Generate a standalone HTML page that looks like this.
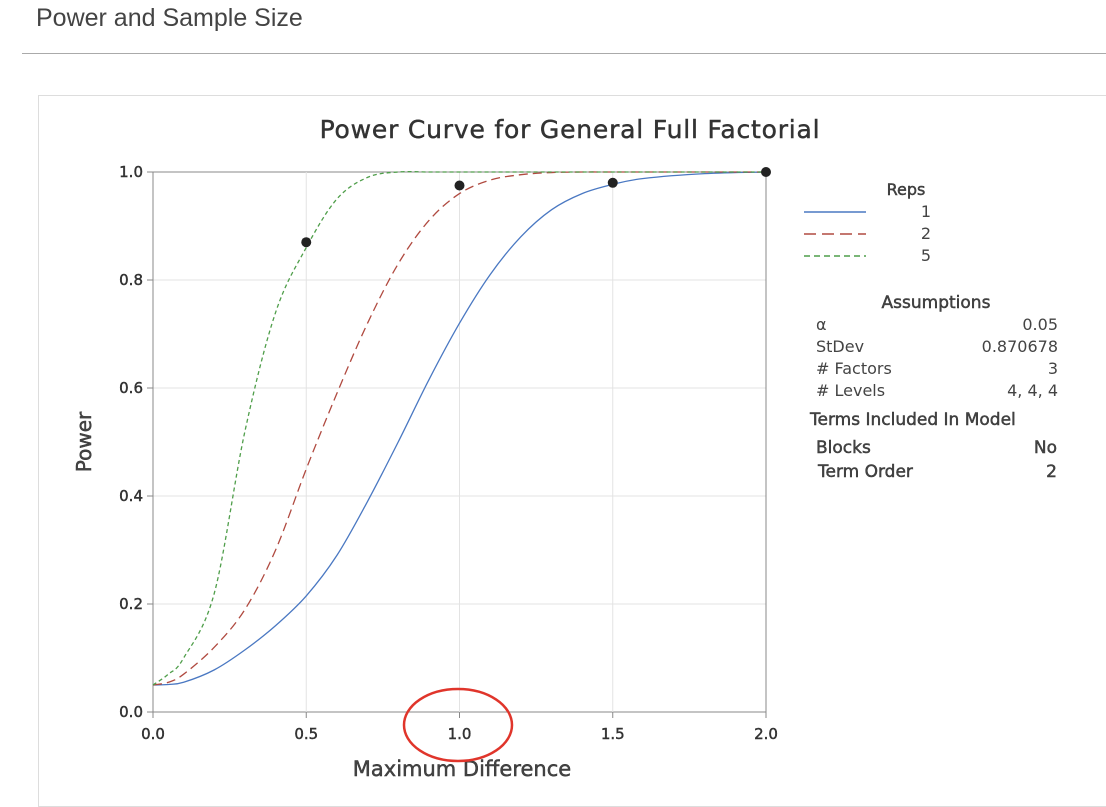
<!DOCTYPE html>
<html><head><meta charset="utf-8"><style>
body{margin:0;width:1106px;height:796px;background:#fff;overflow:hidden;font-family:"DejaVu Sans","Liberation Sans",sans-serif;}
.sb{stroke:currentColor;stroke-width:0.45px;}
</style></head><body>
<div style="position:absolute;left:36px;top:4px;font-size:25px;color:#444;font-family:'Liberation Sans',sans-serif;">Power and Sample Size</div>
<div style="position:absolute;left:22px;top:53px;width:1084px;height:1px;background:#aaa;"></div>
<div style="position:absolute;left:38px;top:95px;width:1080px;height:710px;border:1px solid #ddd;"></div>
<svg id="chart" width="1106" height="796" style="position:absolute;left:0;top:0;color:#333"></svg>
<script>
const xTicks=[0,0.5,1.0,1.5,2.0];
const yTicks=[0,0.2,0.4,0.6,0.8,1.0];
const xs=[0,0.05,0.1,0.2,0.3,0.4,0.5,0.6,0.7,0.8,0.9,1.0,1.1,1.2,1.3,1.4,1.5,1.6,1.8,2.0];
const rep1=[0.05,0.051,0.055,0.078,0.115,0.16,0.215,0.29,0.39,0.5,0.615,0.72,0.81,0.88,0.93,0.96,0.977,0.988,0.997,1.0];
const rep2=[0.05,0.055,0.07,0.12,0.19,0.3,0.45,0.59,0.72,0.83,0.91,0.96,0.985,0.995,0.999,1,1,1,1,1];
const rep5=[0.05,0.07,0.1,0.22,0.52,0.74,0.86,0.95,0.99,1.0,1,1,1,1,1,1,1,1,1,1];
const ptX=[0.5,1.0,1.5,2.0];
const ptY=[0.87,0.975,0.98,1.0];
const NS='http://www.w3.org/2000/svg';
const svg=document.getElementById('chart');
const X=v=>153+v*(766-153)/2, Y=v=>712-v*540;
function mk(t,a,txt){const e=document.createElementNS(NS,t);for(const k in a)e.setAttribute(k,a[k]);if(txt!=null)e.textContent=txt;svg.appendChild(e);return e;}
yTicks.forEach(v=>{const g=mk('line',{x1:153,x2:766,y1:Y(v),y2:Y(v),stroke:v==0||v==1?'#888':'#e3e3e3'});


mk('line',{x1:147,x2:153,y1:Y(v),y2:Y(v),stroke:'#888'});
const t=mk('text',{x:143,y:Y(v)+5,'text-anchor':'end','font-size':15,class:'sb',fill:'#333'},v.toFixed(1));

});
xTicks.forEach(v=>{const g=mk('line',{x1:X(v),x2:X(v),y1:172,y2:712,stroke:v==0||v==2?'#888':'#e3e3e3'});


mk('line',{x1:X(v),x2:X(v),y1:712,y2:718,stroke:'#888'});
const t=mk('text',{x:X(v),y:739,'text-anchor':'middle','font-size':15,class:'sb',fill:'#333'},v.toFixed(1));

});
function path(ys){let p=[];for(let i=0;i<xs.length;i++)p.push([X(xs[i]),Y(ys[i])]);
let d='M'+p[0][0]+','+p[0][1];for(let i=0;i<p.length-1;i++){const p0=p[Math.max(0,i-1)],p1=p[i],p2=p[i+1],p3=p[Math.min(p.length-1,i+2)];
d+=` C${p1[0]+(p2[0]-p0[0])/6},${p1[1]+(p2[1]-p0[1])/6} ${p2[0]-(p3[0]-p1[0])/6},${p2[1]-(p3[1]-p1[1])/6} ${p2[0]},${p2[1]}`;}return d;}
const series=[[rep1,'#4a78c2',null,'curve-reps-1'],[rep2,'#b04a40','9,5','curve-reps-2'],[rep5,'#4f9e4a','4,3','curve-reps-5']];
series.forEach(s=>{const e=mk('path',{d:path(s[0]),fill:'none',stroke:s[1],'stroke-width':1.3});if(s[2])e.setAttribute('stroke-dasharray',s[2]);

});
ptX.forEach((v,i)=>{const c=mk('circle',{cx:X(v),cy:Y(ptY[i]),r:5,fill:'#222'});

});
const tt=mk('text',{x:570,y:138,'text-anchor':'middle','font-size':25,class:'sb',fill:'#333','letter-spacing':'0.8'},'Power Curve for General Full Factorial');

const xl=mk('text',{x:462,y:776,'text-anchor':'middle','font-size':21,class:'sb',fill:'#444'},'Maximum Difference');

const yl=mk('text',{x:0,y:0,'text-anchor':'middle','font-size':20,class:'sb',fill:'#444',transform:'translate(91,442) rotate(-90)'},'Power');

mk('text',{x:906,y:195,'text-anchor':'middle','font-size':16,class:'sb',fill:'#444'},'Reps');
[['1','#4a78c2',null],['2','#b04a40','12,6'],['5','#4f9e4a','6,4']].forEach((r,i)=>{const y=212+i*22;
const l=mk('line',{x1:804,x2:866,y1:y,y2:y,stroke:r[1],'stroke-width':1.5});if(r[2])l.setAttribute('stroke-dasharray',r[2]);

mk('text',{x:926,y:y+5,'text-anchor':'middle','font-size':16,fill:'#444'},r[0]);});
mk('text',{x:936,y:308,'text-anchor':'middle','font-size':17,class:'sb',fill:'#444'},'Assumptions');
[['α','0.05'],['StDev','0.870678'],['# Factors','3'],['# Levels','4, 4, 4']].forEach((r,i)=>{const y=330+i*22;
mk('text',{x:816,y:y,'font-size':16,fill:'#444'},r[0]);mk('text',{x:1058,y:y,'text-anchor':'end','font-size':16,fill:'#444'},r[1]);});
mk('text',{x:810,y:425,'font-size':17,class:'sb',fill:'#444'},'Terms Included In Model');
mk('text',{x:816,y:453,'font-size':17,class:'sb',fill:'#444'},'Blocks');mk('text',{x:1057,y:453,'text-anchor':'end','font-size':17,class:'sb',fill:'#444'},'No');
mk('text',{x:818,y:477,'font-size':17,class:'sb',fill:'#444'},'Term Order');mk('text',{x:1057,y:477,'text-anchor':'end','font-size':17,class:'sb',fill:'#444'},'2');
const ann=mk('ellipse',{cx:458,cy:725,rx:54,ry:36,fill:'none',stroke:'#e0352b','stroke-width':2.5});

</script>
</body></html>
